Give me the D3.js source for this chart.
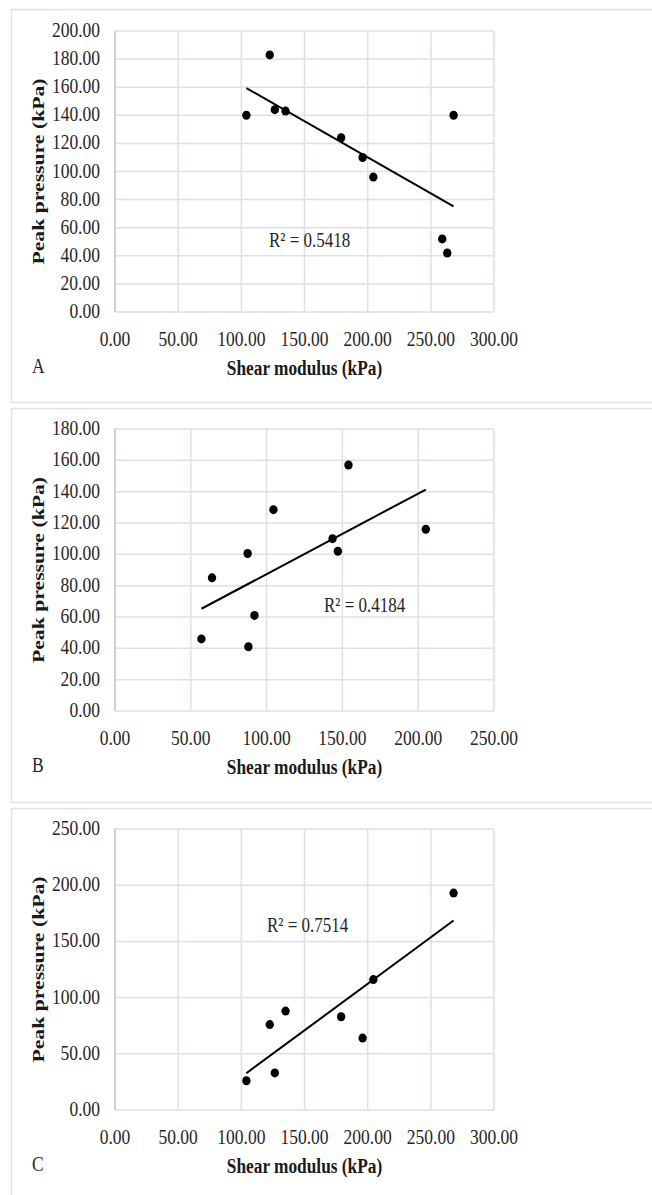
<!DOCTYPE html>
<html>
<head>
<meta charset="utf-8">
<script src="https://cdn.jsdelivr.net/npm/d3@7"></script>
<style>
  body { margin: 0; background: #fff; }
  svg { display: block; }
</style>
</head>
<body>
<div id="chart"></div>
<script>
// Datos de los tres paneles
const shearA = [104, 122.5, 126.5, 135, 179, 196, 204.5, 268, 259, 263];
const pressureA = [140, 183, 144, 143, 124, 110, 96, 140, 52, 42];

const shearB = [57, 64, 87.5, 88, 92, 104.5, 143.5, 147, 154, 205];
const pressureB = [46, 85, 100.5, 41, 61, 128.5, 110, 102, 157, 116];

const shearC = [104, 122.5, 126.5, 135, 179, 196, 204.5, 268];
const pressureC = [26, 76, 33, 88, 83, 64, 116, 193];

const xTicksA = [0, 50, 100, 150, 200, 250, 300];
const yTicksA = [0, 20, 40, 60, 80, 100, 120, 140, 160, 180, 200];
const xTicksB = [0, 50, 100, 150, 200, 250];
const yTicksB = [0, 20, 40, 60, 80, 100, 120, 140, 160, 180];
const xTicksC = [0, 50, 100, 150, 200, 250, 300];
const yTicksC = [0, 50, 100, 150, 200, 250];

const r2Labels = ["R² = 0.5418", "R² = 0.4184", "R² = 0.7514"];
const panelLetters = ["A", "B", "C"];

const width = 652;
const height = 1195;

const svg = d3.select("#chart")
              .append("svg")
              .attr("width", width)
              .attr("height", height);

const font = "'Liberation Serif', 'Times New Roman', serif";
const stretch = 1.22; // el texto de la figura original está estirado en vertical

// Configuración de cada panel
const panels = [
  { xs: shearA, ys: pressureA, xTicks: xTicksA, yTicks: yTicksA, top: 9, boxH: 393,
    plotTop: 31, plotBottom: 312, r2: r2Labels[0], r2x: 269, r2y: 247, letter: panelLetters[0] },
  { xs: shearB, ys: pressureB, xTicks: xTicksB, yTicks: yTicksB, top: 408, boxH: 394,
    plotTop: 429, plotBottom: 711, r2: r2Labels[1], r2x: 324, r2y: 612, letter: panelLetters[1] },
  { xs: shearC, ys: pressureC, xTicks: xTicksC, yTicks: yTicksC, top: 808, boxH: 400,
    plotTop: 829, plotBottom: 1110, r2: r2Labels[2], r2x: 267, r2y: 932, letter: panelLetters[2] }
];

const plotLeft = 115;
const plotRight = 494;

// Texto horizontal con estiramiento vertical
function stretchedText(g, x, y, str, size, weight, anchor) {
  return g.append("text")
          .attr("transform", `translate(${x},${y}) scale(1,${stretch})`)
          .attr("text-anchor", anchor)
          .attr("font-family", font)
          .attr("font-size", size)
          .attr("font-weight", weight)
          .attr("fill", "#262626")
          .text(str);
}

panels.forEach(p => {
  const g = svg.append("g");

  // Marco del panel
  g.append("rect")
   .attr("x", 11.5)
   .attr("y", p.top + 0.5)
   .attr("width", 660)
   .attr("height", p.boxH)
   .attr("fill", "none")
   .attr("stroke", "#dde2e8")
   .attr("stroke-width", 1.5);

  const x = d3.scaleLinear()
              .domain(d3.extent(p.xTicks))
              .range([plotLeft, plotRight]);
  const y = d3.scaleLinear()
              .domain(d3.extent(p.yTicks))
              .range([p.plotBottom, p.plotTop]);

  // Rejilla vertical
  g.selectAll(".vgrid")
   .data(p.xTicks)
   .enter()
   .append("line")
   .attr("x1", d => x(d)).attr("x2", d => x(d))
   .attr("y1", p.plotTop).attr("y2", p.plotBottom)
   .attr("stroke", "#dbe0e9")
   .attr("stroke-width", 1.5);

  // Rejilla horizontal
  g.selectAll(".hgrid")
   .data(p.yTicks)
   .enter()
   .append("line")
   .attr("x1", plotLeft).attr("x2", plotRight)
   .attr("y1", d => y(d)).attr("y2", d => y(d))
   .attr("stroke", "#dbe0e9")
   .attr("stroke-width", 1.5);

  // Eje vertical un poco más oscuro
  g.append("line")
   .attr("x1", plotLeft).attr("x2", plotLeft)
   .attr("y1", p.plotTop).attr("y2", p.plotBottom)
   .attr("stroke", "#c3cbd9")
   .attr("stroke-width", 1.5);

  // Etiquetas del eje Y
  p.yTicks.forEach(t => {
    stretchedText(g, 100, y(t) + 6, t.toFixed(2), 17.5, "normal", "end");
  });

  // Etiquetas del eje X
  p.xTicks.forEach(t => {
    stretchedText(g, x(t), p.plotBottom + 34, t.toFixed(2), 17.5, "normal", "middle");
  });

  // Título eje X
  stretchedText(g, (plotLeft + plotRight) / 2, p.plotBottom + 63, "Shear modulus (kPa)", 17.3, "bold", "middle")
    .attr("fill", "#1a1a1a");

  // Título eje Y (rotado)
  g.append("text")
   .attr("transform", `translate(44,${(p.plotTop + p.plotBottom) / 2}) scale(1,${stretch * 1.03}) rotate(-90)`)
   .attr("text-anchor", "middle")
   .attr("font-family", font)
   .attr("font-size", 17.3)
   .attr("font-weight", "bold")
   .attr("fill", "#1a1a1a")
   .text("Peak pressure (kPa)");

  // Letra del panel
  stretchedText(g, 32, p.plotBottom + 61, p.letter, 17.5, "normal", "start");

  // Línea de tendencia (regresión lineal por mínimos cuadrados)
  const mx = d3.mean(p.xs);
  const my = d3.mean(p.ys);
  const sxy = d3.sum(p.xs.map((v, i) => (v - mx) * (p.ys[i] - my)));
  const sxx = d3.sum(p.xs.map(v => (v - mx) * (v - mx)));
  const slope = sxy / sxx;
  const intercept = my - slope * mx;
  const [x0, x1] = d3.extent(p.xs);

  g.append("line")
   .attr("x1", x(x0)).attr("y1", y(intercept + slope * x0))
   .attr("x2", x(x1)).attr("y2", y(intercept + slope * x1))
   .attr("stroke", "#000")
   .attr("stroke-width", 2);

  // Puntos
  g.selectAll(".pt")
   .data(p.xs.map((v, i) => [v, p.ys[i]]))
   .enter()
   .append("ellipse")
   .attr("cx", d => x(d[0]))
   .attr("cy", d => y(d[1]))
   .attr("rx", 4.2)
   .attr("ry", 4.5)
   .attr("fill", "#000");

  // Etiqueta R²
  stretchedText(g, p.r2x, p.r2y, p.r2, 17, "normal", "start");
});
</script>
</body>
</html>
